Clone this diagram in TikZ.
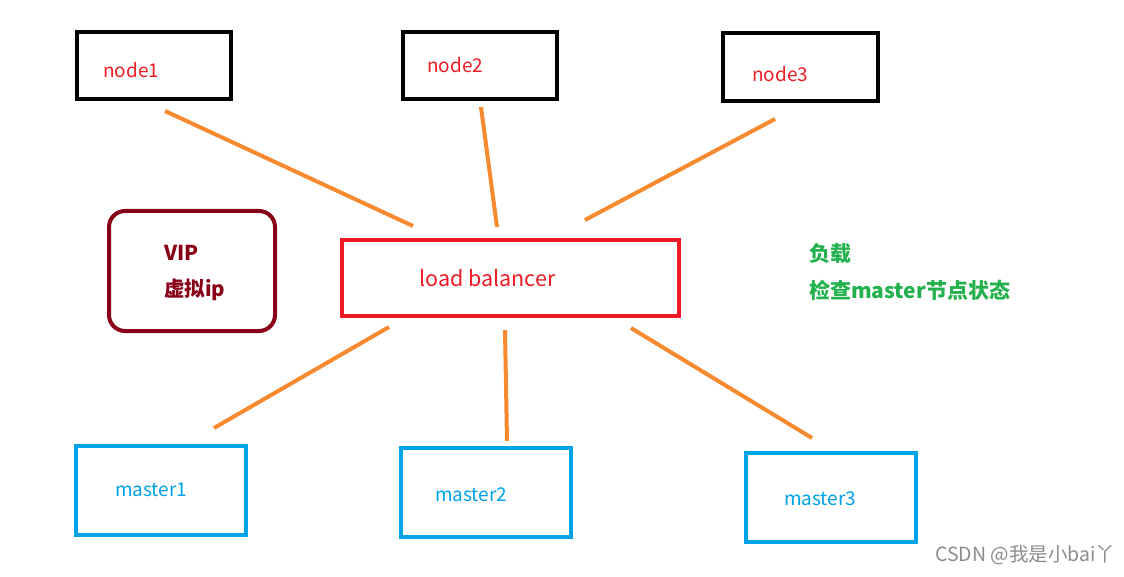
\documentclass[tikz,border=0pt]{standalone}
\usepackage{fontspec}
\newfontfamily\cjk{Noto Sans CJK SC}
\definecolor{pblack}{HTML}{000000}
\definecolor{pred}{HTML}{ED1C24}
\definecolor{porange}{HTML}{F7892E}
\definecolor{pblue}{HTML}{00A2E8}
\definecolor{pdark}{HTML}{880015}
\definecolor{pgreen}{HTML}{22B14C}
\begin{document}
\begin{tikzpicture}[x=1pt,y=-1pt,
  box/.style={draw,line width=4pt,minimum width=#1,inner sep=0pt,outer sep=0pt,anchor=north west},
  lbl/.style={anchor=west,inner sep=0pt,font=\cjk\fontsize{19}{23}\selectfont},
  blbl/.style={anchor=west,inner sep=0pt,font=\cjk\bfseries\fontsize{20.5}{24}\selectfont},
  link/.style={draw=porange,line width=4pt}]
\useasboundingbox (0,0) rectangle (1124,577);
% top boxes
\node[box=154pt,draw=pblack,minimum height=67pt] (n1) at (77,32) {};
\node[box=154pt,draw=pblack,minimum height=67pt] (n2) at (403,32) {};
\node[box=155pt,draw=pblack,minimum height=68pt] (n3) at (723,33) {};
\node[lbl,text=pred] (t1) at (103,70) {node1};
\node[lbl,text=pred] (t2) at (427,65) {node2};
\node[lbl,text=pred] (t3) at (752,74) {node3};
% load balancer
\node[box=337pt,draw=pred,minimum height=76pt] (lb) at (342,240) {};
\node[lbl,text=pred,font=\cjk\fontsize{21.5}{25}\selectfont] (tlb) at (419,278) {load balancer};
% VIP
\node[box=166pt,draw=pdark,minimum height=120pt,rounded corners=16pt] (vip) at (109,211) {};
\node[blbl,text=pdark] (tv1) at (164,253) {VIP};
\node[blbl,text=pdark] (tv2) at (164,290) {虚拟ip};
% green notes
\node[blbl,text=pgreen,font=\cjk\bfseries\fontsize{21}{25}\selectfont] (g1) at (809,254) {负载};
\node[blbl,text=pgreen,font=\cjk\bfseries\fontsize{21}{25}\selectfont] (g2) at (809,290) {检查master节点状态};
% masters
\node[box=170pt,draw=pblue,minimum height=89pt] (m1) at (76,446) {};
\node[box=170pt,draw=pblue,minimum height=89pt] (m2) at (401,448) {};
\node[box=170pt,draw=pblue,minimum height=89pt] (m3) at (746,453) {};
\node[lbl,text=pblue] (tm1) at (115,490) {master1};
\node[lbl,text=pblue] (tm2) at (435,495) {master2};
\node[lbl,text=pblue] (tm3) at (784,499) {master3};
% connector ends
\coordinate (a1) at (165,111); \coordinate (b1) at (413,226);
\coordinate (a2) at (481,107); \coordinate (b2) at (497,227);
\coordinate (a3) at (775,119); \coordinate (b3) at (585,220);
\coordinate (c1) at (389,327); \coordinate (d1) at (214,428);
\coordinate (c2) at (505,330); \coordinate (d2) at (507,441);
\coordinate (c3) at (631,328); \coordinate (d3) at (812,438);
\draw[link] (a1) -- (b1);
\draw[link] (a2) -- (b2);
\draw[link] (a3) -- (b3);
\draw[link] (c1) -- (d1);
\draw[link] (c2) -- (d2);
\draw[link] (c3) -- (d3);
% watermark
\node[anchor=west,inner sep=0pt,text=black!45,font=\cjk\fontsize{19.5}{23}\selectfont] (wm) at (935,555) {CSDN @我是小bai丫};
\end{tikzpicture}
\end{document}
